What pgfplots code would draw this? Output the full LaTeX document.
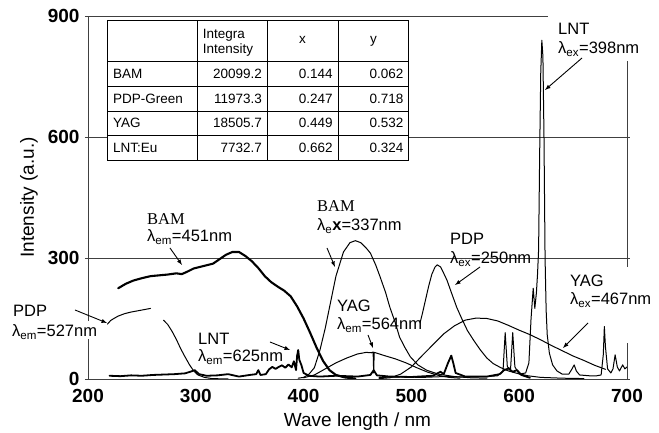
\documentclass[border=0pt]{standalone}
\usepackage{pgfplots}
\pgfplotsset{compat=1.18}
\usepackage{array}
\usepackage{fontspec}
\setmainfont{Liberation Sans}
\newfontfamily\serifb{Liberation Serif}
\begin{document}
\begin{tikzpicture}
\begin{axis}[
  scale only axis, width=539pt, height=363pt,
  xmin=200, xmax=700, ymin=0, ymax=900,
  xtick={200,300,400,500,600,700}, ytick={0,300,600,900},
  ymajorgrids, grid style={line width=0.8pt, color=black!75},
  axis line style={line width=0.8pt, color=black!75},
  xtick style={draw=none},
  ytick style={line width=0.8pt, color=black!75},
  tick align=outside, major tick length=3pt,
  /pgf/number format/assume math mode=true,
  ticklabel style={font=\fontsize{19}{19}\selectfont\bfseries},
  yticklabel style={xshift=-2pt},
  xticklabel style={yshift=-4pt},
  xlabel={Wave length / nm},
  ylabel={Intensity (a.u.)},
  label style={font=\fontsize{19}{19}\selectfont},
  xlabel style={at={(axis description cs:0.5,0)}, anchor=center, yshift=-43pt},
  ylabel style={at={(axis description cs:-0.1095,0.5)}, anchor=center},
  every axis plot/.append style={line join=round, line cap=round},
]
% BAM excitation (lambda_em=451nm), thick
\addplot[black, line width=2.1pt] coordinates {
(228,225)(235,236)(242,244)(250,250)(258,255)(266,257)(274,259)(282,262)(287,260)(292,266)(298,274)(304,278)(310,282)(316,286)(322,297)(328,308)(334,315)(340,315)(346,305)(352,292)(358,275)(364,255)(370,240)(376,229)(382,219)(388,205)(394,180)(400,150)(406,115)(412,78)(418,45)(424,22)(430,10)(438,4)(448,1)};
% LNT excitation (lambda_em=625nm), thick noisy
\addplot[black, line width=1.8pt] coordinates {
(220,8)(230,7)(240,9)(250,8)(260,10)(270,11)(280,12)(290,14)(295,18)(299,22)(303,12)(310,8)(320,9)(330,12)(340,6)(350,10)(356,12)(358,22)(360,10)(365,12)(368,24)(371,30)(374,25)(377,30)(380,34)(383,28)(386,36)(389,29)(391,44)(393,22)(394,58)(395,72)(396,48)(398,34)(400,15)(405,8)(415,6)(430,8)(450,6)(462,10)(465,22)(468,9)(480,6)(500,5)(520,8)(527,18)(530,12)(534,40)(537,58)(539,38)(541,15)(550,6)(570,6)(582,12)(586,22)(590,26)(594,18)(598,22)(602,10)(610,3)};
% PDP excitation (lambda_em=527nm), thin, two segments
\addplot[black, line width=1pt] coordinates {
(218,136)(221,145)(224,150)(228,156)(234,162)(240,166)(246,169)(252,172)(258,175)};
\addplot[black, line width=1pt] coordinates {
(270,146)(274,135)(278,118)(282,98)(286,75)(290,55)(294,36)(298,20)(302,10)(308,4)(315,1)(330,0)};
% BAM emission (lambda_ex=337nm)
\addplot[black, line width=1pt] coordinates {
(395,2)(400,4)(405,12)(410,28)(415,70)(420,125)(425,190)(430,255)(437,315)(443,338)(448,343)(453,338)(458,325)(462,312)(467,282)(471,253)(476,215)(480,178)(485,140)(489,104)(494,78)(499,55)(506,35)(514,22)(525,12)(540,6)(555,3)(570,2)};
% YAG excitation (lambda_em=564nm)
\addplot[black, line width=1pt] coordinates {
(400,3)(410,10)(420,25)(430,40)(440,52)(450,62)(458,66)(463,65)(464.5,67)(465,15)(465.5,66)(468,64)(475,58)(485,50)(495,40)(505,28)(515,17)(525,9)(535,4)(545,2)};
% PDP emission (lambda_ex=250nm)
\addplot[black, line width=1pt] coordinates {
(508,139)(510,160)(513,195)(516,230)(519,260)(522,278)(524,283)(527,278)(530,262)(533,245)(537,215)(542,178)(547,148)(552,120)(558,95)(564,72)(570,52)(576,38)(583,28)(590,20)(598,14)(608,8)(620,4)(640,2)(660,1)};
% YAG emission (lambda_ex=467nm)
\addplot[black, line width=1pt] coordinates {
(470,1)(480,3)(490,12)(500,30)(510,58)(520,85)(530,112)(540,132)(550,146)(560,151)(570,150)(580,144)(590,133)(600,121)(610,110)(620,97)(630,83)(640,70)(650,57)(660,46)(670,34)(680,24)};
% LNT emission (lambda_ex=398nm)
\addplot[black, line width=1pt] coordinates {
(470,4)(490,5)(510,4)(530,6)(550,5)(570,6)(580,8)(585,20)(587,115)(589,30)(592,25)(594,115)(596,30)(600,12)(606,15)(609,40)(611,150)(613,225)(614.5,175)(616,215)(617,260)(618,320)(619,560)(620,760)(621,840)(622,800)(623,600)(624,300)(625,170)(626,110)(628,64)(631,35)(635,20)(640,12)(646,12)(649,25)(651,35)(653,20)(656,10)(665,8)(672,8)(676,10)(678,60)(679,130)(680,80)(682,25)(685,15)(687,25)(689,60)(691,30)(693,20)(696,35)(698,25)(700,30)};
\end{axis}
% white patches where labels interrupt the frame
\fill[white] (460pt,318pt) rectangle (545pt,368pt);
\fill[white] (533pt,36pt) rectangle (545pt,112pt);
\fill[white] (-3pt,40pt) rectangle (3pt,58pt);
% data table
\node[anchor=north west, fill=white, inner sep=0pt, font=\fontsize{13.5}{15}\selectfont] at (19pt,359pt) {%
\setlength{\tabcolsep}{5pt}\setlength{\arrayrulewidth}{0.8pt}%
\begin{tabular}{|p{79pt}|>{\raggedleft\arraybackslash}p{59pt}|>{\raggedleft\arraybackslash}p{60pt}|>{\raggedleft\arraybackslash}p{60pt}|}
\hline
\rule[-14pt]{0pt}{40pt} & \multicolumn{1}{l|}{\begin{tabular}[c]{@{}l@{}}Integra\\Intensity\end{tabular}} & \multicolumn{1}{c|}{\raisebox{3pt}{x}} & \multicolumn{1}{c|}{\raisebox{3pt}{y}}\\ \hline
\rule[-7.5pt]{0pt}{24pt}BAM & 20099.2 & 0.144 & 0.062 \\ \hline
\rule[-7.5pt]{0pt}{24pt}PDP-Green & 11973.3 & 0.247 & 0.718 \\ \hline
\rule[-7.5pt]{0pt}{24pt}YAG & 18505.7 & 0.449 & 0.532 \\ \hline
\rule[-7.5pt]{0pt}{24pt}LNT:Eu & 7732.7 & 0.662 & 0.324 \\ \hline
\end{tabular}};
% annotations
\begin{scope}[every node/.style={inner sep=0pt, anchor=base west, font=\fontsize{16.5}{16.5}\selectfont},
  arr/.style={-latex, line width=0.9pt}]
\node[font=\fontsize{16.5}{16.5}\selectfont\serifb] at (59pt,154pt) {BAM};
\node at (59pt,137pt) {λ\textsubscript{em}=451nm};
\draw[arr] (82pt,131pt) -- (94pt,114pt);
\node at (-75pt,62pt) {PDP};
\node at (-76pt,42pt) {λ\textsubscript{em}=527nm};
\draw[arr] (-13pt,69pt) -- (19pt,56pt);
\node at (110pt,34pt) {LNT};
\node at (110pt,17pt) {λ\textsubscript{em}=625nm};
\draw[arr] (182pt,37pt) -- (202pt,29pt);
\node[font=\fontsize{16.5}{16.5}\selectfont\serifb] at (229pt,167pt) {BAM};
\node at (229pt,148pt) {λ\textsubscript{e}\textbf{x}=337nm};
\draw[arr] (239pt,131pt) -- (247pt,112pt);
\node at (249pt,67pt) {YAG};
\node at (249pt,49pt) {λ\textsubscript{em}=564nm};
\draw[arr] (280pt,44pt) -- (285pt,31pt);
\node at (362pt,134pt) {PDP};
\node at (362pt,115pt) {λ\textsubscript{ex}=250nm};
\draw[arr] (392pt,112pt) -- (367pt,94pt);
\node at (482pt,92pt) {YAG};
\node at (482pt,74pt) {λ\textsubscript{ex}=467nm};
\draw[arr] (500pt,56pt) -- (475pt,31pt);
\node at (470pt,344pt) {LNT};
\node at (470pt,325pt) {λ\textsubscript{ex}=398nm};
\draw[arr] (494pt,321pt) -- (457pt,289pt);
\end{scope}
\pgfresetboundingbox
\path (-88pt,-54pt) rectangle (571pt,379pt);
\end{tikzpicture}
\end{document}
